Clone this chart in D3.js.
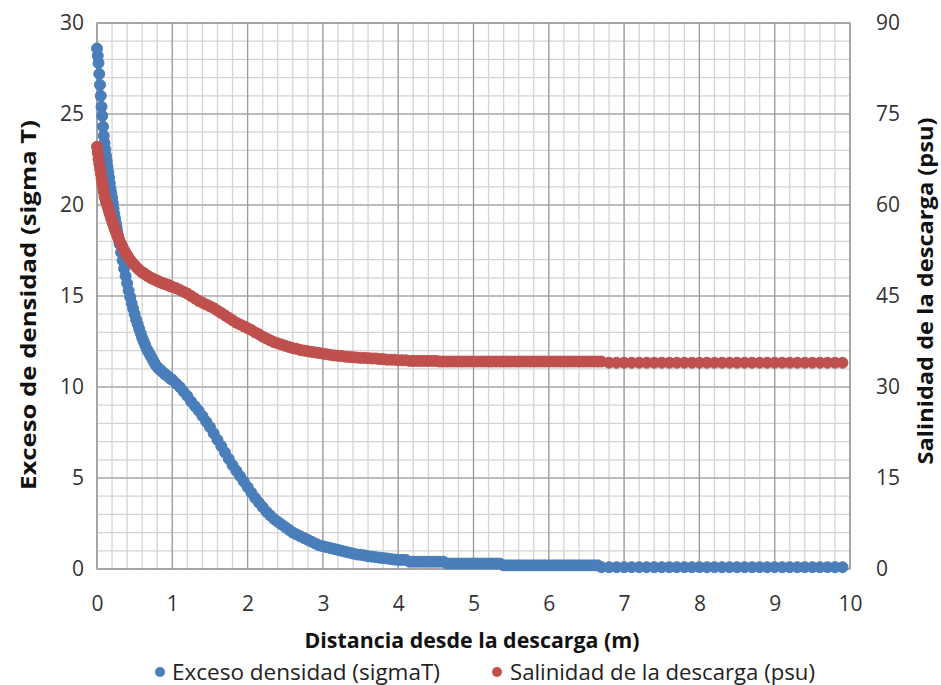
<!doctype html>
<html>
<head>
<meta charset="UTF-8" />
<title>Exceso de densidad y salinidad</title>
<script src="https://d3js.org/d3.v7.min.js"></script>
<style>
  body { margin: 0; background: #fff; }
  text { font-family: "Open Sans", "Noto Sans", sans-serif; }
</style>
</head>
<body>
<div id="container"></div>

<script>
// distancia desde la descarga (m)
const distancia = [
  0, 0.01, 0.02, 0.03, 0.04, 0.05, 0.06, 0.07, 0.08, 0.09, 0.10,
  0.11, 0.12, 0.13, 0.14, 0.15, 0.16, 0.17, 0.18, 0.19, 0.20,
  0.21, 0.22, 0.23, 0.24, 0.25, 0.26, 0.27, 0.28, 0.29, 0.30,
  0.32, 0.34, 0.36, 0.38, 0.40, 0.42, 0.44, 0.46, 0.48, 0.50,
  0.52, 0.54, 0.56, 0.58, 0.60, 0.62, 0.64, 0.66, 0.68, 0.70,
  0.72, 0.74, 0.76, 0.78, 0.80, 0.82, 0.84, 0.86, 0.88, 0.90,
  0.92, 0.94, 0.96, 0.98, 1.00,
  1.05, 1.10, 1.15, 1.20, 1.25, 1.30, 1.35, 1.40, 1.45,
  1.50, 1.55, 1.60, 1.65, 1.70, 1.75, 1.80, 1.85, 1.90, 1.95,
  2.00, 2.05, 2.10, 2.15, 2.20, 2.25, 2.30, 2.35, 2.40, 2.45,
  2.50, 2.55, 2.60, 2.65, 2.70, 2.75, 2.80, 2.85, 2.90, 2.95,
  3.00, 3.05, 3.10, 3.15, 3.20, 3.25, 3.30, 3.35, 3.40, 3.45,
  3.50, 3.55, 3.60, 3.65, 3.70, 3.75, 3.80, 3.85, 3.90, 3.95,
  4.00, 4.05, 4.10, 4.15, 4.20, 4.25, 4.30, 4.35, 4.40, 4.45,
  4.50, 4.55, 4.60, 4.65, 4.70, 4.75, 4.80, 4.85, 4.90, 4.95,
  5.00, 5.05, 5.10, 5.15, 5.20, 5.25, 5.30, 5.35, 5.40, 5.45,
  5.50, 5.55, 5.60, 5.65, 5.70, 5.75, 5.80, 5.85, 5.90, 5.95,
  6.00, 6.05, 6.10, 6.15, 6.20, 6.25, 6.30, 6.35, 6.40, 6.45, 6.50, 6.55, 6.60, 6.65,
  6.70,
  6.8, 6.9, 7.0, 7.1, 7.2, 7.3, 7.4, 7.5, 7.6, 7.7, 7.8, 7.9,
  8.0, 8.1, 8.2, 8.3, 8.4, 8.5, 8.6, 8.7, 8.8, 8.9,
  9.0, 9.1, 9.2, 9.3, 9.4, 9.5, 9.6, 9.7, 9.8, 9.9
];

// exceso densidad (sigmaT), eje izquierdo
const excesoDensidad = [
  28.6, 28.2, 27.8, 27.2, 26.6, 26.0, 25.4, 24.9, 24.3, 23.8, 23.4,
  23.05, 22.7, 22.4, 22.1, 21.8, 21.5, 21.2, 20.9, 20.65, 20.4,
  20.1, 19.8, 19.5, 19.25, 19.0, 18.8, 18.55, 18.3, 18.1, 17.85,
  17.4, 16.95, 16.5, 16.1, 15.7, 15.3, 14.95, 14.6, 14.3, 14.0,
  13.7, 13.45, 13.2, 12.95, 12.7, 12.5, 12.3, 12.1, 11.95, 11.8,
  11.65, 11.5, 11.35, 11.2, 11.1, 11.0, 10.95, 10.85, 10.8, 10.7,
  10.65, 10.6, 10.5, 10.45, 10.4,
  10.2, 10.0, 9.75, 9.5, 9.2, 8.95, 8.7, 8.4, 8.1,
  7.8, 7.45, 7.1, 6.75, 6.4, 6.05, 5.7, 5.4, 5.1, 4.8,
  4.5, 4.2, 3.9, 3.65, 3.4, 3.15, 2.95, 2.75, 2.6, 2.45,
  2.3, 2.15, 2.0, 1.9, 1.8, 1.7, 1.6, 1.5, 1.4, 1.3,
  1.25, 1.2, 1.15, 1.1, 1.05, 1.0, 0.95, 0.9, 0.85, 0.8,
  0.78, 0.75, 0.7, 0.68, 0.65, 0.62, 0.6, 0.58, 0.55, 0.52,
  0.5, 0.5, 0.5, 0.4, 0.4, 0.4, 0.4, 0.4, 0.4, 0.4,
  0.4, 0.4, 0.4, 0.3, 0.3, 0.3, 0.3, 0.3, 0.3, 0.3,
  0.3, 0.3, 0.3, 0.3, 0.3, 0.3, 0.3, 0.3, 0.2, 0.2,
  0.2, 0.2, 0.2, 0.2, 0.2, 0.2, 0.2, 0.2, 0.2, 0.2,
  0.2, 0.2, 0.2, 0.2, 0.2, 0.2, 0.2, 0.2, 0.2, 0.2, 0.2, 0.2, 0.2, 0.2,
  0.1,
  0.1, 0.1, 0.1, 0.1, 0.1, 0.1, 0.1, 0.1, 0.1, 0.1, 0.1, 0.1,
  0.1, 0.1, 0.1, 0.1, 0.1, 0.1, 0.1, 0.1, 0.1, 0.1,
  0.1, 0.1, 0.1, 0.1, 0.1, 0.1, 0.1, 0.1, 0.1, 0.1
];

// salinidad de la descarga (psu), eje derecho
const salinidad = [
  69.6, 68.6, 67.6, 66.8, 66.0, 65.2, 64.4, 63.6, 62.9, 62.2, 61.5,
  61.05, 60.6, 60.2, 59.8, 59.4, 59.0, 58.6, 58.2, 57.8, 57.4,
  57.05, 56.7, 56.3, 55.95, 55.6, 55.3, 55.0, 54.7, 54.4, 54.1,
  53.6, 53.05, 52.55, 52.1, 51.7, 51.3, 50.95, 50.6, 50.35, 50.1,
  49.8, 49.55, 49.3, 49.1, 48.9, 48.75, 48.6, 48.4, 48.25, 48.1,
  47.95, 47.85, 47.75, 47.6, 47.5, 47.4, 47.25, 47.15, 47.1, 47.0,
  46.9, 46.85, 46.7, 46.6, 46.5,
  46.3, 46.0, 45.7, 45.4, 45.0, 44.6, 44.2, 43.9, 43.6,
  43.3, 43.0, 42.6, 42.2, 41.8, 41.4, 41.0, 40.6, 40.3, 40.0,
  39.7, 39.4, 39.0, 38.7, 38.3, 38.0, 37.7, 37.4, 37.2, 37.0,
  36.8, 36.6, 36.4, 36.3, 36.1, 36.0, 35.9, 35.8, 35.7, 35.6,
  35.5, 35.4, 35.3, 35.2, 35.15, 35.1, 35.0, 34.95, 34.9, 34.85,
  34.8, 34.8, 34.75, 34.7, 34.7, 34.6, 34.6, 34.5, 34.5, 34.5,
  34.4, 34.4, 34.4, 34.3, 34.3, 34.3, 34.3, 34.3, 34.3, 34.3,
  34.3, 34.2, 34.2, 34.2, 34.2, 34.2, 34.2, 34.2, 34.2, 34.2,
  34.2, 34.2, 34.2, 34.2, 34.2, 34.2, 34.2, 34.2, 34.2, 34.2,
  34.2, 34.2, 34.2, 34.2, 34.2, 34.2, 34.2, 34.2, 34.2, 34.2,
  34.2, 34.2, 34.2, 34.2, 34.2, 34.2, 34.2, 34.2, 34.2, 34.2, 34.2, 34.2, 34.2, 34.2,
  34.2,
  34.0, 34.0, 34.0, 34.0, 34.0, 34.0, 34.0, 34.0, 34.0, 34.0, 34.0, 34.0,
  34.0, 34.0, 34.0, 34.0, 34.0, 34.0, 34.0, 34.0, 34.0, 34.0,
  34.0, 34.0, 34.0, 34.0, 34.0, 34.0, 34.0, 34.0, 34.0, 34.0
];

const xTicks = [0, 1, 2, 3, 4, 5, 6, 7, 8, 9, 10];
const leftTicks = [0, 5, 10, 15, 20, 25, 30];
const rightTicks = [0, 15, 30, 45, 60, 75, 90];

const seriesNames = ["Exceso densidad (sigmaT)", "Salinidad de la descarga (psu)"];
const seriesColors = ["#4a7ebb", "#c0504d"];

// chart dimensions
const width = 941;
const height = 685;
const marginTop = 23;
const marginRight = 91;
const marginBottom = 116;
const marginLeft = 97;

const x = d3.scaleLinear().domain([0, 10]).range([marginLeft, width - marginRight]);
const yL = d3.scaleLinear().domain([0, 30]).range([height - marginBottom, marginTop]);
const yR = d3.scaleLinear().domain([0, 90]).range([height - marginBottom, marginTop]);

const svg = d3.create("svg")
    .attr("width", width)
    .attr("height", height)
    .style("background", "#fff");

// minor grid
const grid = svg.append("g");
grid.selectAll(".vminor")
  .data(x.ticks(50))
  .join("line")
    .attr("x1", d => x(d)).attr("x2", d => x(d))
    .attr("y1", marginTop).attr("y2", height - marginBottom)
    .attr("stroke", "#d4d4d4").attr("stroke-width", 1.3);
grid.selectAll(".hminor")
  .data(yL.ticks(30))
  .join("line")
    .attr("y1", d => yL(d)).attr("y2", d => yL(d))
    .attr("x1", marginLeft).attr("x2", width - marginRight)
    .attr("stroke", "#d4d4d4").attr("stroke-width", 1.3);

// major grid
grid.selectAll(".vmajor")
  .data(xTicks)
  .join("line")
    .attr("x1", d => x(d)).attr("x2", d => x(d))
    .attr("y1", marginTop).attr("y2", height - marginBottom)
    .attr("stroke", "#9a9a9a").attr("stroke-width", 1.2);
grid.selectAll(".hmajor")
  .data(leftTicks)
  .join("line")
    .attr("y1", d => yL(d)).attr("y2", d => yL(d))
    .attr("x1", marginLeft).attr("x2", width - marginRight)
    .attr("stroke", "#9a9a9a").attr("stroke-width", 1.2);

// plot border
svg.append("rect")
    .attr("x", marginLeft).attr("y", marginTop)
    .attr("width", width - marginRight - marginLeft)
    .attr("height", height - marginBottom - marginTop)
    .attr("fill", "none").attr("stroke", "#9a9a9a").attr("stroke-width", 1.2);

// axes (labels only)
function styleAxis(g) {
  g.select(".domain").remove();
  g.selectAll("text").attr("font-size", 21).attr("fill", "#333")
    .attr("font-family", "'Open Sans', sans-serif");
}
svg.append("g")
    .attr("transform", `translate(0,${height - marginBottom})`)
    .call(d3.axisBottom(x).tickValues(xTicks).tickSize(0).tickPadding(27))
    .call(styleAxis);
svg.append("g")
    .attr("transform", `translate(${marginLeft},0)`)
    .call(d3.axisLeft(yL).tickValues(leftTicks).tickSize(0).tickPadding(13))
    .call(styleAxis);
svg.append("g")
    .attr("transform", `translate(${width - marginRight},0)`)
    .call(d3.axisRight(yR).tickValues(rightTicks).tickSize(0).tickPadding(26))
    .call(styleAxis);

// series
const pts = distancia.map((d, i) => ({ x: d, dens: excesoDensidad[i], sal: salinidad[i] }));

svg.append("g")
  .selectAll("circle")
  .data(pts)
  .join("circle")
    .attr("cx", d => x(d.x))
    .attr("cy", d => yL(d.dens))
    .attr("r", 5.5)
    .attr("fill", seriesColors[0])
    .attr("stroke", seriesColors[0]).attr("stroke-width", 1);

svg.append("g")
  .selectAll("circle")
  .data(pts)
  .join("circle")
    .attr("cx", d => x(d.x))
    .attr("cy", d => yR(d.sal))
    .attr("r", 5.5)
    .attr("fill", seriesColors[1])
    .attr("stroke", seriesColors[1]).attr("stroke-width", 1);

// axis titles
svg.append("text")
    .attr("x", 472).attr("y", 648)
    .attr("text-anchor", "middle")
    .attr("font-size", 21).attr("font-weight", "bold").attr("fill", "#111")
    .attr("textLength", 335).attr("lengthAdjust", "spacingAndGlyphs")
    .text("Distancia desde la descarga (m)");

svg.append("text")
    .attr("transform", "translate(36,305) rotate(-90)")
    .attr("text-anchor", "middle")
    .attr("font-size", 21).attr("font-weight", "bold").attr("fill", "#111")
    .attr("textLength", 370).attr("lengthAdjust", "spacingAndGlyphs")
    .text("Exceso de densidad (sigma T)");

svg.append("text")
    .attr("transform", "translate(933,291) rotate(-90)")
    .attr("text-anchor", "middle")
    .attr("font-size", 21).attr("font-weight", "bold").attr("fill", "#111")
    .attr("textLength", 347).attr("lengthAdjust", "spacingAndGlyphs")
    .text("Salinidad de la descarga (psu)");

// legend
const legendPos = [{ cx: 160, tx: 172, w: 268 }, { cx: 497, tx: 510, w: 305 }];
const legend = svg.append("g");
legend.selectAll("circle")
  .data(seriesNames)
  .join("circle")
    .attr("cx", (d, i) => legendPos[i].cx)
    .attr("cy", 672)
    .attr("r", 5)
    .attr("fill", (d, i) => seriesColors[i]);
legend.selectAll("text")
  .data(seriesNames)
  .join("text")
    .attr("x", (d, i) => legendPos[i].tx)
    .attr("y", 680)
    .attr("font-size", 21).attr("fill", "#222")
    .attr("textLength", (d, i) => legendPos[i].w).attr("lengthAdjust", "spacingAndGlyphs")
    .text(d => d);

container.append(svg.node());
</script>
</body>
</html>
